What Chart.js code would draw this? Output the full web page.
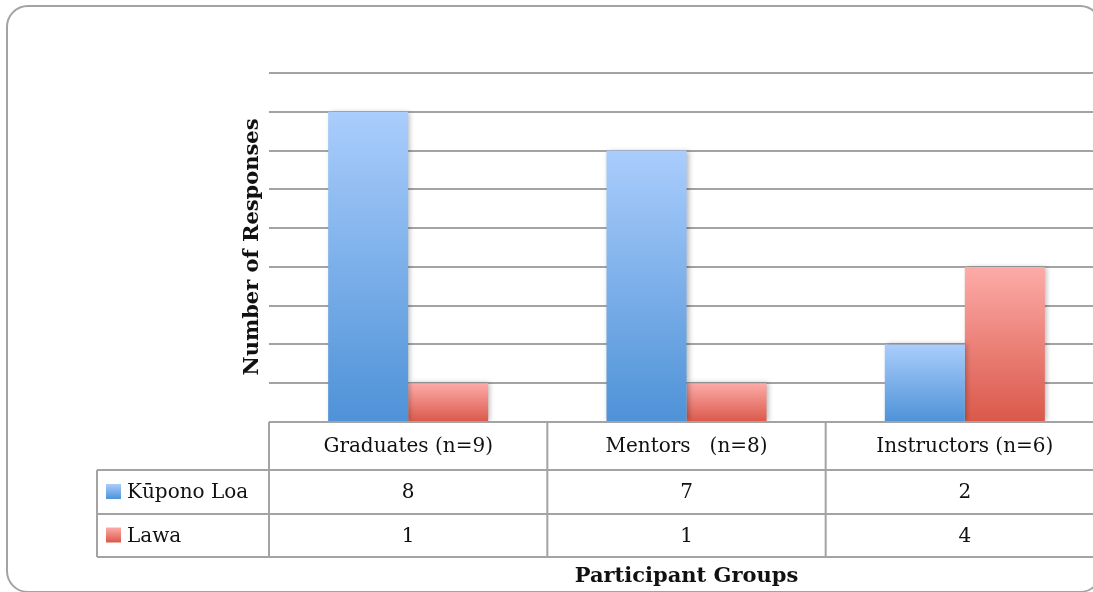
<!DOCTYPE html>
<html>
<head>
<meta charset="utf-8">
<script src="https://cdn.jsdelivr.net/npm/chart.js@4.4.0/dist/chart.umd.min.js"></script>
<style>
  html, body { margin: 0; padding: 0; background: #fff; overflow: hidden; width: 1093px; height: 592px; }
  #frame {
    position: absolute; left: 6px; top: 5px; width: 1096px; height: 588px;
    border: 2px solid #a3a3a3; border-radius: 22px; box-sizing: border-box;
  }
  #grafico { position: absolute; left: 0; top: 0; }
</style>
</head>
<body>
<div id="frame"></div>
<canvas id="grafico" width="1110" height="592"></canvas>
<script>
const grupos = ["Graduates (n=9)", "Mentors   (n=8)", "Instructors (n=6)"];
const kuponoLoa = [8, 7, 2];
const lawa = [1, 1, 4];
const yTicks = [0, 1, 2, 3, 4, 5, 6, 7, 8, 9];

const serif = "'DejaVu Serif', 'Liberation Serif', serif";
const lineColor = "#a3a3a3";

const cores = {
  azul: ["#aacdfc", "#4e92d7"],
  vermelho: ["#fdaba8", "#da584a"],
};

function gradiente(ctx, top, bottom, par) {
  const g = ctx.createLinearGradient(0, top, 0, bottom);
  g.addColorStop(0, par[0]);
  g.addColorStop(1, par[1]);
  return g;
}

// gradiente vertical em cada barra, do topo até a base
function corDaBarra(par) {
  return (c) => {
    const chart = c.chart;
    if (!chart.chartArea || c.raw === undefined) return par[1];
    const y = chart.scales.y;
    return gradiente(chart.ctx, y.getPixelForValue(c.raw), y.getPixelForValue(0), par);
  };
}

// sombra leve atrás das barras
const sombra = {
  id: "sombra",
  beforeDatasetsDraw(chart) {
    const ctx = chart.ctx;
    ctx.save();
    ctx.shadowColor = "rgba(0,0,0,0.28)";
    ctx.shadowBlur = 5;
    ctx.shadowOffsetX = 2;
    ctx.shadowOffsetY = 0;
  },
  afterDatasetsDraw(chart) {
    chart.ctx.restore();
  },
};

// tabela de dados abaixo do eixo, títulos dos eixos
const tabela = {
  id: "tabela",
  afterDraw(chart) {
    const ctx = chart.ctx;
    const x = chart.scales.x;
    const area = chart.chartArea;
    const base = area.bottom;
    const rowH = [48, 44, 43];
    const r1 = base + rowH[0];
    const r2 = r1 + rowH[1];
    const r3 = r2 + rowH[2];
    const left = 97;
    const right = area.right;
    const half = (x.getPixelForValue(1) - x.getPixelForValue(0)) / 2;

    ctx.save();
    ctx.strokeStyle = lineColor;
    ctx.lineWidth = 2;
    ctx.beginPath();
    ctx.moveTo(area.left, base); ctx.lineTo(right, base);
    ctx.moveTo(left, r1); ctx.lineTo(right, r1);
    ctx.moveTo(left, r2); ctx.lineTo(right, r2);
    ctx.moveTo(left, r3); ctx.lineTo(right, r3);
    ctx.moveTo(left, r1); ctx.lineTo(left, r3);
    ctx.moveTo(area.left, base); ctx.lineTo(area.left, r3);
    for (let i = 1; i < grupos.length; i++) {
      const bx = x.getPixelForValue(i) - half;
      ctx.moveTo(bx, base); ctx.lineTo(bx, r3);
    }
    ctx.stroke();

    ctx.fillStyle = "#111";
    ctx.font = "20px " + serif;
    ctx.textAlign = "center";
    ctx.textBaseline = "middle";
    grupos.forEach((g, i) => {
      const cx = x.getPixelForValue(i);
      ctx.fillText(g, cx, (base + r1) / 2 + 1);
      ctx.fillText(String(kuponoLoa[i]), cx, (r1 + r2) / 2 + 1);
      ctx.fillText(String(lawa[i]), cx, (r2 + r3) / 2 + 1);
    });

    // legenda dentro da tabela
    const series = chart.data.datasets;
    const linhas = [[r1, r2], [r2, r3]];
    series.forEach((ds, i) => {
      const [a, b] = linhas[i];
      const sy = (a + b) / 2 - 8;
      ctx.fillStyle = gradiente(ctx, sy, sy + 15, ds.par);
      ctx.fillRect(106, sy, 15, 15);
      ctx.fillStyle = "#111";
      ctx.textAlign = "left";
      ctx.fillText(ds.label, 127, (a + b) / 2 + 1);
    });

    ctx.font = "bold 21px " + serif;
    ctx.textAlign = "center";
    ctx.fillText("Participant Groups", (area.left + 1104) / 2, 577);

    ctx.translate(253, 247);
    ctx.rotate(-Math.PI / 2);
    ctx.fillText("Number of Responses", 0, 0);
    ctx.restore();
  },
};

new Chart(document.getElementById("grafico"), {
  type: "bar",
  data: {
    labels: grupos,
    datasets: [
      {
        label: "Kūpono Loa",
        data: kuponoLoa,
        par: cores.azul,
        backgroundColor: corDaBarra(cores.azul),
        borderWidth: 0,
        categoryPercentage: 0.575,
        barPercentage: 1,
      },
      {
        label: "Lawa",
        data: lawa,
        par: cores.vermelho,
        backgroundColor: corDaBarra(cores.vermelho),
        borderWidth: 0,
        categoryPercentage: 0.575,
        barPercentage: 1,
      },
    ],
  },
  options: {
    responsive: false,
    devicePixelRatio: 1,
    animation: false,
    layout: { padding: { left: 269, top: 73, right: 6, bottom: 170 } },
    plugins: { legend: { display: false }, tooltip: { enabled: false } },
    scales: {
      x: { display: false },
      y: {
        min: yTicks[0],
        max: yTicks[yTicks.length - 1],
        afterBuildTicks: (s) => { s.ticks = yTicks.map((v) => ({ value: v })); },
        afterFit: (s) => { s.width = 0; },
        ticks: { display: false },
        border: { display: false },
        grid: { color: lineColor, lineWidth: 2, drawTicks: false },
      },
    },
  },
  plugins: [sombra, tabela],
});
</script>
</body>
</html>
